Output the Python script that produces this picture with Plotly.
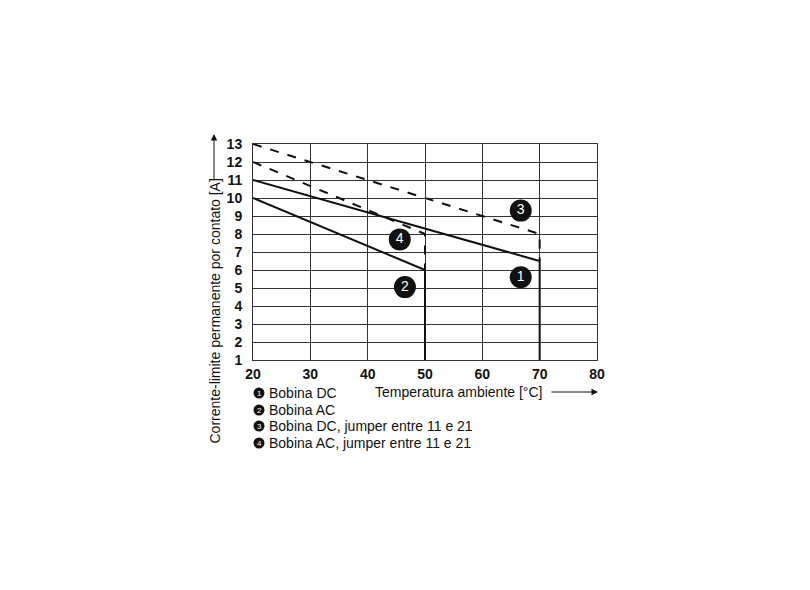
import plotly.graph_objects as go

# Data
temp_dc = [20, 70, 70]
curr_dc = [11, 6.5, 1]
temp_ac = [20, 50, 50]
curr_ac = [10, 6, 1]
temp_dc_j = [20, 70, 70]
curr_dc_j = [13, 8, 6.5]
temp_ac_j = [20, 50, 50]
curr_ac_j = [12, 8, 6]

label_nums = ["1", "2", "3", "4"]
label_x = [66.7, 46.5, 66.7, 45.6]
label_y = [5.6, 5.05, 9.3, 7.7]

legend_texts = ["Bobina DC", "Bobina AC",
                "Bobina DC, jumper entre 11 e 21",
                "Bobina AC, jumper entre 11 e 21"]

x_ticks = [20, 30, 40, 50, 60, 70, 80]
y_ticks = list(range(1, 14))

FONT = "Liberation Sans, Arial, sans-serif"
OFF = 8  # page body margin
L, R, T, B = 253 - OFF, 213 + OFF, 144 - OFF, 230 + OFF
PW, PH = 810 - L - R, 590 - T - B


def px(xp):
    # screen pixel -> paper fraction
    return (xp - OFF - L) / PW


def py(yp):
    return (590 - B - (yp - OFF)) / PH


fig = go.Figure()
fig.add_trace(go.Scatter(x=temp_dc, y=curr_dc, mode="lines",
                         line=dict(color="#111", width=2)))
fig.add_trace(go.Scatter(x=temp_ac, y=curr_ac, mode="lines",
                         line=dict(color="#111", width=2)))
fig.add_trace(go.Scatter(x=temp_dc_j, y=curr_dc_j, mode="lines",
                         line=dict(color="#111", width=2, dash="dash")))
fig.add_trace(go.Scatter(x=temp_ac_j, y=curr_ac_j, mode="lines",
                         line=dict(color="#111", width=2, dash="dash")))
fig.add_trace(go.Scatter(x=label_x, y=label_y, mode="markers+text",
                         text=label_nums, textposition="middle center",
                         textfont=dict(color="white", size=14, family=FONT),
                         marker=dict(color="#111", size=22)))

annotations = []
rows_y = [393, 410, 426, 443]
shapes = []
for ty, txt, n in zip(rows_y, legend_texts, label_nums):
    r = 5.5
    shapes.append(dict(type="circle", xref="paper", yref="paper",
                       x0=px(259 - r), x1=px(259 + r),
                       y0=py(ty + r), y1=py(ty - r),
                       fillcolor="#111", line=dict(width=0)))
    annotations.append(dict(xref="paper", yref="paper", x=px(259), y=py(ty),
                            text=n, showarrow=False,
                            font=dict(size=8, color="white", family=FONT),
                            xanchor="center", yanchor="middle"))
    annotations.append(dict(xref="paper", yref="paper", x=px(267), y=py(ty),
                            text=txt, showarrow=False,
                            font=dict(size=14, color="#111", family=FONT),
                            xanchor="left", yanchor="middle"))

# x axis title + arrow
annotations.append(dict(xref="paper", yref="paper", x=px(544), y=py(392),
                        text="Temperatura ambiente [°C]", showarrow=False,
                        font=dict(size=14, color="#111", family=FONT),
                        xanchor="right", yanchor="middle"))
annotations.append(dict(xref="paper", yref="paper", x=px(598), y=py(392),
                        ax=-48, ay=0, text="", showarrow=True,
                        arrowhead=2, arrowsize=1.3, arrowwidth=1,
                        arrowcolor="#111"))
# y axis title + arrow
annotations.append(dict(xref="paper", yref="paper", x=px(214), y=py(446),
                        text="Corrente-limite permanente por contato [A]",
                        showarrow=False, textangle=-90,
                        font=dict(size=14, color="#111", family=FONT),
                        xanchor="center", yanchor="bottom"))
annotations.append(dict(xref="paper", yref="paper", x=px(214), y=py(134),
                        ax=0, ay=48, text="", showarrow=True,
                        arrowhead=2, arrowsize=1.3, arrowwidth=1,
                        arrowcolor="#111"))

fig.update_layout(
    width=810, height=590,
    margin=dict(l=L, r=R, t=T, b=B, autoexpand=False),
    paper_bgcolor="white", plot_bgcolor="white",
    showlegend=False,
    font=dict(family=FONT, color="#111"),
    shapes=shapes, annotations=annotations,
    xaxis=dict(range=[20, 80], tickvals=x_ticks,
               ticktext=[f"<b>{v}</b>" for v in x_ticks],
               showgrid=True, gridcolor="#333", gridwidth=1,
               showline=True, linecolor="#333", linewidth=1, mirror=True,
               zeroline=False, ticks="", tickfont=dict(size=14),
               ticklabelstandoff=1),
    yaxis=dict(range=[1, 13], tickvals=y_ticks,
               ticktext=[f"<b>{v}</b>" for v in y_ticks],
               showgrid=True, gridcolor="#333", gridwidth=1,
               showline=True, linecolor="#333", linewidth=1, mirror=True,
               zeroline=False, ticks="", tickfont=dict(size=14),
               ticklabelstandoff=7),
)

fig.write_html("out.html")
